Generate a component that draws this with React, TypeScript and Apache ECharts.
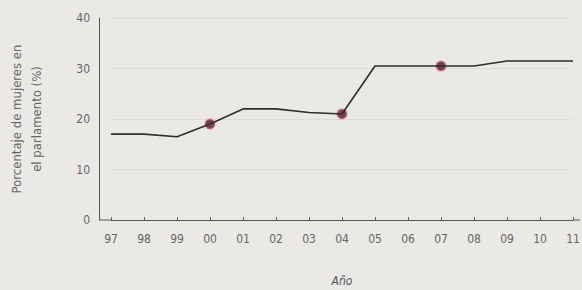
import React, { useEffect, useRef } from "react";
import * as echarts from "echarts";

const years = ["97", "98", "99", "00", "01", "02", "03", "04", "05", "06", "07", "08", "09", "10", "11"];
const womenPct = [17, 17, 16.5, 19, 22, 22, 21.3, 21, 30.5, 30.5, 30.5, 30.5, 31.5, 31.5, 31.5];
const highlightYears = ["00", "04", "07"];
const yTicks = [0, 10, 20, 30, 40];

const FONT = "'DejaVu Sans Condensed', 'Liberation Sans Narrow', 'DejaVu Sans', sans-serif";

export default function App() {
  const ref = useRef<HTMLDivElement>(null);
  useEffect(() => {
    if (!ref.current) return;
    const chart = echarts.init(ref.current, undefined, { renderer: "svg" });
    const highlights = highlightYears.map((y) => [y, womenPct[years.indexOf(y)]]);
    chart.setOption({
      animation: false,
      backgroundColor: "#eae9e5",
      grid: { left: 111, right: 9, top: 18, bottom: 70, containLabel: false, outerBoundsMode: "none" },
      xAxis: {
        type: "category",
        data: years,
        boundaryGap: false,
        name: "Año",
        nameLocation: "middle",
        nameGap: 55,
        nameTextStyle: { color: "#555", fontSize: 12, fontFamily: FONT, fontStyle: "italic" },
        axisLine: { show: true, lineStyle: { color: "#555", width: 1 } },
        axisTick: { show: true, inside: true, length: 3, lineStyle: { color: "#666" } },
        axisLabel: { color: "#666", fontSize: 12, fontFamily: FONT, margin: 13 },
        splitLine: { show: false },
      },
      yAxis: {
        type: "value",
        min: yTicks[0],
        max: yTicks[yTicks.length - 1],
        interval: 10,
        offset: 12,
        name: "Porcentaje de mujeres en\nel parlamento (%)",
        nameLocation: "middle",
        nameGap: 53,
        nameTextStyle: { color: "#666", fontSize: 13, fontFamily: FONT, lineHeight: 20 },
        axisLine: { show: true, lineStyle: { color: "#555", width: 1 } },
        axisTick: { show: false },
        axisLabel: { color: "#666", fontSize: 12, fontFamily: FONT, margin: 9 },
        splitLine: { show: true, lineStyle: { color: "#d2d1cd", type: "dotted" } },
      },
      graphic: [
        {
          type: "line",
          shape: { x1: 99, y1: 220, x2: 111, y2: 220 },
          style: { stroke: "#555", lineWidth: 1 },
        },
        {
          type: "line",
          shape: { x1: 573, y1: 220, x2: 580, y2: 220 },
          style: { stroke: "#555", lineWidth: 1 },
        },
      ],
      series: [
        {
          type: "line",
          data: womenPct,
          symbol: "none",
          lineStyle: { color: "#2e2e2e", width: 1.6 },
        },
        {
          type: "scatter",
          data: highlights,
          symbolSize: 10,
          itemStyle: {
            color: "#5e1424",
            borderColor: "rgba(230,140,160,0.45)",
            borderWidth: 2,
          },
        },
      ],
    });
    return () => chart.dispose();
  }, []);
  return (
    <div
      ref={ref}
      style={{ position: "fixed", left: 0, top: 0, width: 582, height: 290 }}
    />
  );
}
